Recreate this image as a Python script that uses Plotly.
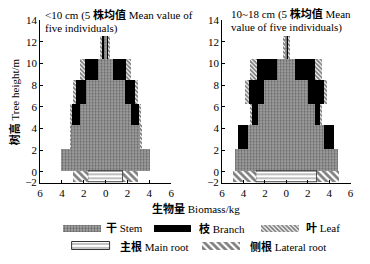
import plotly.graph_objects as go
import numpy as np

# ---------------- data ----------------
# height classes (m); the top class is the leader
layer_bottom = [0, 2.05, 4.25, 6.2, 8.45, 10.36]
layer_top = [2.05, 4.25, 6.2, 8.45, 10.36, 12.5]

# DBH < 10 cm (mean of five trees), biomass per side (kg)
stem_small = [4.1, 3.2, 2.35, 1.75, 0.7, 0.22]
branch_small = [0.0, 0.0, 0.75, 0.92, 1.2, 0.08]
leaf_small = [0.0, 0.05, 0.15, 0.3, 0.45, 0.12]
main_root_small = [1.6]
lateral_root_small = [1.4]

# DBH 10~18 cm (mean of five trees)
stem_large = [4.8, 3.55, 2.65, 2.05, 0.85, 0.12]
branch_large = [0.0, 0.95, 0.55, 1.45, 1.85, 0.05]
leaf_large = [0.0, 0.0, 0.1, 0.35, 0.65, 0.1]
main_root_large = [2.87]
lateral_root_large = [2.1]

# root layer (drawn on the compressed part of the height axis)
root_top = [0.0]
root_bottom = [-0.95]

x_ticks = [-6, -4, -2, 0, 2, 4, 6]
y_ticks = [-1, 0, 2, 4, 6, 8, 10, 12, 14]
y_tick_text = ["\u22122", "0", "2", "4", "6", "8", "10", "12", "14"]

panel_titles = [
    ["&lt;10 cm (5 <b>株均值</b> Mean value of", "five individuals)"],
    ["10~18 cm (5 <b>株均值</b> Mean", "value of five individuals)"],
]

legend_labels = ["<b>干</b> Stem", "<b>枝</b> Branch", "<b>叶</b> Leaf",
                 "<b>主根</b> Main root", "<b>侧根</b> Lateral root"]

FONT = "Liberation Serif, Noto Sans CJK SC, serif"

# ---------------- styles ----------------
STEM = dict(color="#9a9a9a", pattern=dict(shape=".", size=3, solidity=0.45,
                                          fgcolor="#2a2a2a", bgcolor="#a6a6a6"),
            line=dict(width=0))
BRANCH = dict(color="black", line=dict(width=0))
LEAF = dict(color="white", pattern=dict(shape="\\", size=3, solidity=0.6,
                                        fgcolor="black", bgcolor="white"),
            line=dict(width=0))
MAIN = dict(color="white", pattern=dict(shape="-", size=4, solidity=0.25,
                                        fgcolor="black", bgcolor="white"),
            line=dict(width=0.8, color="black"))
LATERAL = dict(color="white", pattern=dict(shape="\\", size=5, solidity=0.55,
                                           fgcolor="black", bgcolor="white"),
               line=dict(width=0))

fig = go.Figure()

def add_panel(stem, branch, leaf, main_root, lateral_root, xa, ya):
    lb = np.array(layer_bottom)
    lt = np.array(layer_top)
    yc = (lb + lt) / 2
    th = lt - lb
    s = np.array(stem)
    b = np.array(branch)
    l = np.array(leaf)
    for sign in (1, -1):
        parts = [(s, np.zeros_like(s), STEM), (b, s, BRANCH), (l, s + b, LEAF)]
        for val, base, style in parts:
            if sign > 0:
                fig.add_trace(go.Bar(y=yc, x=val, base=base, width=th, orientation="h",
                                     marker=style, xaxis=xa, yaxis=ya, showlegend=False,
                                     hoverinfo="skip"))
            else:
                fig.add_trace(go.Bar(y=yc, x=val, base=-(base + val), width=th, orientation="h",
                                     marker=style, xaxis=xa, yaxis=ya, showlegend=False,
                                     hoverinfo="skip"))
    rt = np.array(root_top)
    rb = np.array(root_bottom)
    ryc = (rt + rb) / 2
    rth = rt - rb
    m = np.array(main_root)
    lr = np.array(lateral_root)
    fig.add_trace(go.Bar(y=ryc, x=2 * m, base=-m, width=rth, orientation="h", marker=MAIN,
                         xaxis=xa, yaxis=ya, showlegend=False, hoverinfo="skip"))
    fig.add_trace(go.Bar(y=ryc, x=lr, base=m, width=rth, orientation="h", marker=LATERAL,
                         xaxis=xa, yaxis=ya, showlegend=False, hoverinfo="skip"))
    fig.add_trace(go.Bar(y=ryc, x=lr, base=-(m + lr), width=rth, orientation="h", marker=LATERAL,
                         xaxis=xa, yaxis=ya, showlegend=False, hoverinfo="skip"))

add_panel(stem_small, branch_small, leaf_small, main_root_small, lateral_root_small, "x", "y")
add_panel(stem_large, branch_large, leaf_large, main_root_large, lateral_root_large, "x2", "y2")

# ---------------- legend (drawn on a hidden axis in the bottom strip, pixel units) ----------------
W, H = 370, 264
LEG_TOP = 222
leg_items = [
    (60.7, 233, STEM, 103), (153, 233, BRANCH, 197), (262, 233, LEAF, 306),
    (70, 251.5, MAIN, 117), (202, 251.5, LATERAL, 249),
]
for (x0, yy, style, tx), lab in zip(leg_items, legend_labels):
    fig.add_trace(go.Bar(y=[yy], x=[38.5], base=[x0], width=[8], orientation="h", marker=style,
                         xaxis="x3", yaxis="y3", showlegend=False, hoverinfo="skip"))
    fig.add_annotation(x=tx / W, y=1 - yy / H, xref="paper", yref="paper", text=lab,
                       showarrow=False, xanchor="left", yanchor="middle",
                       font=dict(family=FONT, size=11, color="black"))

# ---------------- axes ----------------
ydom = [1 - 185 / H, 1 - 15 / H]
axis_common = dict(showgrid=False, zeroline=False, showline=True, linecolor="black",
                   linewidth=1, ticks="inside", ticklen=3, tickcolor="black",
                   tickfont=dict(family=FONT, size=11, color="black"))
xa_common = dict(axis_common, range=[-6, 6], tickvals=x_ticks,
                 ticktext=[str(abs(v)) for v in x_ticks])
ya_common = dict(axis_common, range=[-1, 14], tickvals=y_ticks, ticktext=y_tick_text)

fig.update_layout(
    width=W, height=H,
    margin=dict(l=0, r=0, t=0, b=0),
    paper_bgcolor="white", plot_bgcolor="rgba(0,0,0,0)",
    barmode="overlay", bargap=0,
    xaxis=dict(xa_common, domain=[37.7 / W, 171 / W], anchor="y"),
    yaxis=dict(ya_common, domain=ydom, anchor="x"),
    xaxis2=dict(xa_common, domain=[222.7 / W, 353.3 / W], anchor="y2"),
    yaxis2=dict(ya_common, domain=ydom, anchor="x2"),
    xaxis3=dict(domain=[0, 1], range=[0, W], visible=False, anchor="y3", fixedrange=True),
    yaxis3=dict(domain=[0, 1 - LEG_TOP / H], range=[H, LEG_TOP], visible=False,
                anchor="x3", fixedrange=True),
    showlegend=False,
)

# panel titles
title_pos = [(41, 9, 24), (230, 8, 23)]
for (tx, y1, y2), lines in zip(title_pos, panel_titles):
    for yy, t in zip((y1, y2), lines):
        fig.add_annotation(x=tx / W, y=1 - yy / H, xref="paper", yref="paper", text=t,
                           showarrow=False, xanchor="left", yanchor="middle",
                           font=dict(family=FONT, size=11, color="black"))

# axis titles
fig.add_annotation(x=12 / W, y=1 - 100 / H, xref="paper", yref="paper",
                   text="<b>树高</b> Tree height/m", textangle=-90, showarrow=False,
                   xanchor="center", yanchor="middle",
                   font=dict(family=FONT, size=11, color="black"))
fig.add_annotation(x=196 / W, y=1 - 212.5 / H, xref="paper", yref="paper",
                   text="<b>生物量</b> Biomass/kg", showarrow=False,
                   xanchor="center", yanchor="middle",
                   font=dict(family=FONT, size=11, color="black"))

fig.write_html("out.html", config={"displayModeBar": False},
               post_script="document.body.style.margin='0';")
